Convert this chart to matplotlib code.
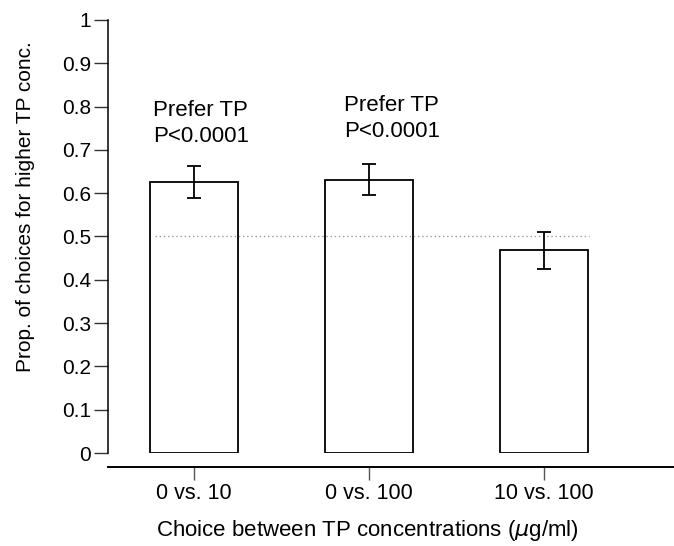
import matplotlib
matplotlib.use("Agg")
import matplotlib.pyplot as plt

plt.rcParams['font.family'] = ['Liberation Sans', 'DejaVu Sans']

categories = ["0 vs. 10", "0 vs. 100", "10 vs. 100"]
values = [0.627, 0.631, 0.468]
err_low = [0.590, 0.596, 0.426]
err_high = [0.663, 0.667, 0.510]
yticks = [0, 0.1, 0.2, 0.3, 0.4, 0.5, 0.6, 0.7, 0.8, 0.9, 1]
ytick_labels = ["0", "0.1", "0.2", "0.3", "0.4", "0.5", "0.6", "0.7", "0.8", "0.9", "1"]
annot_line1 = ["Prefer TP", "Prefer TP"]
annot_line2 = ["P<0.0001", "P<0.0001"]
annot_x = [-0.233, 0.857]
annot_y1 = [0.779, 0.790]
annot_y2 = [0.719, 0.729]
chance = 0.5

fig = plt.figure(figsize=(6.74, 5.46), dpi=100)
ax = fig.add_axes([0.160, 0.1703, 0.840, 0.7931])

for s in ["top", "right"]:
    ax.spines[s].set_visible(False)
ax.spines["bottom"].set_position(("outward", 10))
ax.spines["bottom"].set_linewidth(1.4)
ax.spines["left"].set_linewidth(1.1)

x = list(range(len(categories)))
yerr = [[v - l for v, l in zip(values, err_low)], [h - v for v, h in zip(values, err_high)]]
ax.bar(x, values, width=0.5, color="white", edgecolor="black", linewidth=1.3, zorder=2)
ax.errorbar(x, values, yerr=yerr, fmt="none", ecolor="black", elinewidth=1.3,
            capsize=5, capthick=1.3, zorder=4)
ax.plot([-0.22, 2.26], [chance, chance], linestyle=(0, (1, 2)), color="#9a9a9a",
        linewidth=1.0, zorder=3)

for xi, y1, y2, t1, t2 in zip(annot_x, annot_y1, annot_y2, annot_line1, annot_line2):
    ax.text(xi, y1, t1, ha="left", va="baseline", fontsize=16)
    ax.text(xi, y2, t2, ha="left", va="baseline", fontsize=16)

ax.set_xlim(-0.491, 2.743)
ax.set_ylim(0, 1)
ax.spines["left"].set_bounds(0, 1)
ax.set_xticks(x)
ax.set_xticklabels(categories, fontsize=15.5)
ax.set_yticks(yticks)
ax.set_yticklabels(ytick_labels, fontsize=15)
ax.tick_params(axis="x", direction="out", length=9, width=1.0, color="#555555", pad=2.7)
ax.tick_params(axis="y", direction="out", length=10, width=1.0, color="#333333", pad=2)

ax.set_ylabel("Prop. of choices for higher TP conc.", fontsize=15)
ax.set_xlabel("Choice between TP concentrations ($\\mu$g/ml)", fontsize=16)
ax.yaxis.set_label_coords(-0.128, 0.570)
ax.xaxis.set_label_coords(0.459, -0.150)

fig.savefig("out.png", dpi=100)
